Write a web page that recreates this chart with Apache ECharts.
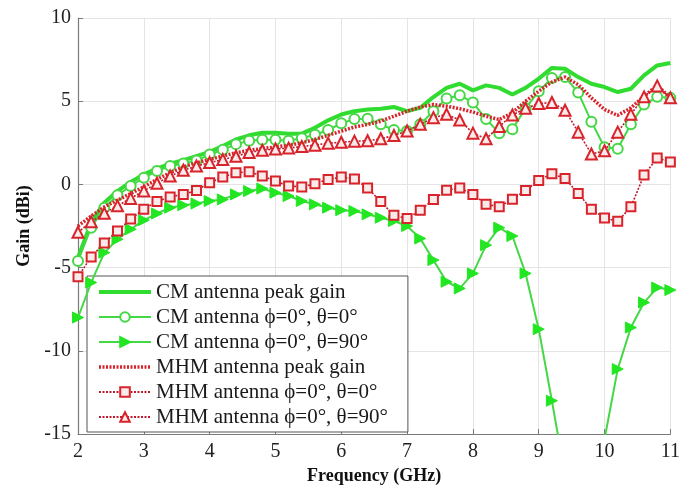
<!DOCTYPE html>
<html>
<head>
<meta charset="utf-8">
<script src="https://cdn.jsdelivr.net/npm/echarts@6/dist/echarts.min.js"></script>
<style>
  html, body { margin: 0; padding: 0; background: #ffffff; }
  #chart { width: 683px; height: 490px; }
</style>
</head>
<body>
<div id="chart"></div>
<script>
// Frequency samples (GHz)
const freq = [2.0, 2.2, 2.4, 2.6, 2.8, 3.0, 3.2, 3.4, 3.6, 3.8,
              4.0, 4.2, 4.4, 4.6, 4.8, 5.0, 5.2, 5.4, 5.6, 5.8,
              6.0, 6.2, 6.4, 6.6, 6.8, 7.0, 7.2, 7.4, 7.6, 7.8,
              8.0, 8.2, 8.4, 8.6, 8.8, 9.0, 9.2, 9.4, 9.6, 9.8,
              10.0, 10.2, 10.4, 10.6, 10.8, 11.0];

// Gain (dBi) per series
const cmPeak = [-4.4, -2.3, -1.1, -0.4, 0.15, 0.6, 0.95, 1.25, 1.45, 1.7,
                1.95, 2.3, 2.7, 2.95, 3.1, 3.1, 3.05, 3.05, 3.4, 3.85,
                4.2, 4.4, 4.5, 4.55, 4.65, 4.4, 4.6, 5.25, 5.8, 6.05,
                5.65, 5.95, 5.8, 5.4, 5.8, 6.35, 7.0, 6.95, 6.45, 6.05,
                5.85, 5.55, 5.75, 6.55, 7.15, 7.3];
const cmTheta0 = [-4.6, -2.6, -1.4, -0.65, -0.1, 0.4, 0.8, 1.1, 1.25, 1.43,
                  1.79, 2.08, 2.42, 2.62, 2.68, 2.68, 2.62, 2.78, 2.98, 3.27,
                  3.67, 3.93, 3.95, 3.61, 3.27, 3.21, 3.61, 4.4, 5.16, 5.36,
                  4.92, 3.93, 3.08, 3.32, 4.57, 5.6, 6.39, 6.45, 5.52, 3.77,
                  2.23, 2.14, 3.61, 4.8, 5.26, 5.2];
const cmTheta90 = [-8.0, -5.9, -4.1, -3.3, -2.7, -2.15, -1.75, -1.4, -1.25, -1.15,
                   -1.0, -0.9, -0.6, -0.4, -0.25, -0.5, -0.7, -1.0, -1.2, -1.4,
                   -1.55, -1.6, -1.8, -2.0, -2.2, -2.5, -3.25, -4.55, -5.85, -6.25,
                   -5.35, -3.65, -2.6, -3.1, -5.35, -8.7, -13.0, -17.5, -24.0, -22.0,
                   -15.3, -11.1, -8.6, -7.1, -6.2, -6.35];
const mhmPeak = [-2.5, -1.9, -1.35, -0.95, -0.55, -0.15, 0.3, 0.7, 1.05, 1.3,
                 1.5, 1.7, 1.9, 2.05, 2.15, 2.25, 2.35, 2.5, 2.7, 2.95,
                 3.2, 3.45, 3.6, 3.8, 4.1, 4.4, 4.65, 4.8, 4.7, 4.55,
                 4.35, 4.1, 3.9, 4.3, 5.0, 5.6, 6.15, 6.45, 6.0, 5.2,
                 4.5, 4.15, 4.6, 5.3, 5.95, 5.2];
const mhmTheta0 = [-5.55, -4.36, -3.52, -2.8, -2.08, -1.49, -1.03, -0.75, -0.6, -0.36,
                   0.1, 0.44, 0.7, 0.76, 0.5, 0.2, -0.1, -0.15, 0.04, 0.3,
                   0.44, 0.33, -0.22, -1.03, -1.86, -2.05, -1.56, -0.91, -0.35, -0.22,
                   -0.6, -1.19, -1.35, -0.89, -0.36, 0.24, 0.64, 0.36, -0.55, -1.49,
                   -2.02, -2.22, -1.35, 0.56, 1.59, 1.35];
const mhmTheta90 = [-2.88, -2.25, -1.74, -1.29, -0.84, -0.39, 0.07, 0.5, 0.85, 1.1,
                    1.31, 1.49, 1.69, 1.92, 2.05, 2.13, 2.18, 2.28, 2.36, 2.48,
                    2.53, 2.6, 2.62, 2.74, 2.94, 3.21, 3.61, 4.01, 4.21, 3.87,
                    3.08, 2.74, 3.48, 4.17, 4.57, 4.86, 4.92, 4.46, 3.14, 1.83,
                    2.02, 3.14, 4.21, 5.26, 5.92, 5.2];

// Axis ticks
const xTicks = [2, 3, 4, 5, 6, 7, 8, 9, 10, 11];
const yTicks = [-15, -10, -5, 0, 5, 10];

// Legend entries
const names = ['CM antenna peak gain', 'CM antenna \u03d5=0\u00b0, \u03b8=0\u00b0', 'CM antenna \u03d5=0\u00b0, \u03b8=90\u00b0',
               'MHM antenna peak gain', 'MHM antenna \u03d5=0\u00b0, \u03b8=0\u00b0', 'MHM antenna \u03d5=0\u00b0, \u03b8=90\u00b0'];

const serif = "'Liberation Serif', 'Times New Roman', serif";
const green = '#2fdc2f';
const lightGreen = '#45d845';
const red = '#d8232a';
const darkRed = '#c0182e';

function pairs(ys) { return freq.map((f, i) => [f, ys[i]]); }

const chart = echarts.init(document.getElementById('chart'), null, { renderer: 'canvas' });

chart.setOption({
  animation: false,
  backgroundColor: '#ffffff',
  grid: { left: 78, right: 7, top: 18, bottom: 53, containLabel: false },
  xAxis: {
    type: 'value',
    min: xTicks[0], max: xTicks[xTicks.length - 1], interval: 1,
    name: 'Frequency (GHz)', nameLocation: 'middle', nameGap: 33,
    nameTextStyle: { fontFamily: serif, fontWeight: 'bold', fontSize: 18, color: '#111' },
    axisLine: { show: true, onZero: false, lineStyle: { color: '#7a7a7a', width: 1.2 } },
    axisTick: { show: true, inside: true, length: 5, lineStyle: { color: '#7a7a7a' } },
    axisLabel: { fontFamily: serif, fontSize: 20, color: '#222', margin: 8 },
    splitLine: { show: true, lineStyle: { color: '#e4e4e4', width: 1 } }
  },
  yAxis: {
    type: 'value',
    min: yTicks[0], max: yTicks[yTicks.length - 1], interval: 5,
    name: 'Gain (dBi)', nameLocation: 'middle', nameGap: 42, nameRotate: 90,
    nameTextStyle: { fontFamily: serif, fontWeight: 'bold', fontSize: 18, color: '#111' },
    axisLine: { show: true, onZero: false, lineStyle: { color: '#7a7a7a', width: 1.2 } },
    axisTick: { show: true, inside: true, length: 5, lineStyle: { color: '#7a7a7a' } },
    axisLabel: { fontFamily: serif, fontSize: 20, color: '#222', margin: 7 },
    splitLine: { show: true, lineStyle: { color: '#e4e4e4', width: 1 } }
  },
  legend: {
    orient: 'vertical',
    left: 87, top: 276,
    backgroundColor: '#ffffff',
    borderColor: '#555555', borderWidth: 1,
    padding: [5, 20, 4, 10],
    itemGap: 3,
    itemWidth: 52, itemHeight: 12,
    textStyle: { fontFamily: serif, fontSize: 21, color: '#1a1a1a', lineHeight: 22 },
    data: [
      { name: names[0], itemStyle: { opacity: 0 }, lineStyle: { width: 4 } },
      { name: names[1] },
      { name: names[2] },
      { name: names[3], itemStyle: { opacity: 0 }, lineStyle: { width: 3.5 } },
      { name: names[4] },
      { name: names[5] }
    ]
  },
  series: [
    {
      name: names[0], type: 'line', data: pairs(cmPeak),
      showSymbol: false, symbol: 'none', z: 3,
      lineStyle: { color: green, width: 4 }, itemStyle: { color: green }
    },
    {
      name: names[1], type: 'line', data: pairs(cmTheta0),
      symbol: 'emptyCircle', symbolSize: 10, z: 4,
      lineStyle: { color: lightGreen, width: 2 },
      itemStyle: { color: lightGreen, borderWidth: 1.5 }
    },
    {
      name: names[2], type: 'line', data: pairs(cmTheta90),
      symbol: 'triangle', symbolRotate: -90, symbolSize: 11, z: 4,
      lineStyle: { color: lightGreen, width: 2 },
      itemStyle: { color: '#22e622', borderColor: '#22e622', borderWidth: 1 }
    },
    {
      name: names[3], type: 'line', data: pairs(mhmPeak),
      showSymbol: false, symbol: 'none', z: 5,
      lineStyle: { color: red, width: 3.5, type: [2, 1.5] }, itemStyle: { color: red }
    },
    {
      name: names[4], type: 'line', data: pairs(mhmTheta0),
      symbol: 'rect', symbolSize: 9, z: 5,
      lineStyle: { color: darkRed, width: 1.6, type: [2, 1.5] },
      itemStyle: { color: '#fbeaea', borderColor: red, borderWidth: 2 }
    },
    {
      name: names[5], type: 'line', data: pairs(mhmTheta90),
      symbol: 'triangle', symbolSize: 11, z: 5,
      lineStyle: { color: darkRed, width: 1.6, type: [2, 1.5] },
      itemStyle: { color: '#fbeaea', borderColor: red, borderWidth: 2 }
    }
  ]
});
</script>
</body>
</html>
